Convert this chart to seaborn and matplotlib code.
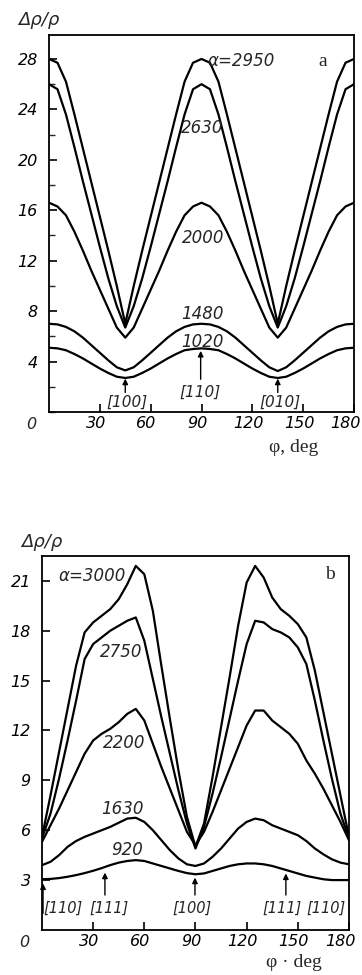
import matplotlib
matplotlib.use("Agg")
import matplotlib.pyplot as plt
from matplotlib.ticker import MultipleLocator
from matplotlib.transforms import ScaledTranslation
import pandas as pd
import seaborn as sns

# angle grid, deg
phi = list(range(0, 185, 5))

# panel a: delta rho / rho along the angle, one list per alpha
a_2950 = [28.0, 27.7, 26.2, 23.6, 20.9, 18.2, 15.5, 12.8, 10.0, 7.0, 10.0, 12.8, 15.5, 18.2, 20.9, 23.6, 26.2, 27.7, 28.0,
          27.7, 26.2, 23.6, 20.9, 18.2, 15.5, 12.8, 10.0, 7.0, 10.0, 12.8, 15.5, 18.2, 20.9, 23.6, 26.2, 27.7, 28.0]
a_2630 = [26.0, 25.6, 23.6, 21.0, 18.3, 15.7, 13.1, 10.6, 8.4, 6.7, 8.4, 10.6, 13.1, 15.7, 18.3, 21.0, 23.6, 25.6, 26.0,
          25.6, 23.6, 21.0, 18.3, 15.7, 13.1, 10.6, 8.4, 6.7, 8.4, 10.6, 13.1, 15.7, 18.3, 21.0, 23.6, 25.6, 26.0]
a_2000 = [16.6, 16.3, 15.6, 14.3, 12.8, 11.2, 9.7, 8.2, 6.7, 5.9, 6.7, 8.2, 9.7, 11.2, 12.8, 14.3, 15.6, 16.3, 16.6,
          16.3, 15.6, 14.3, 12.8, 11.2, 9.7, 8.2, 6.7, 5.9, 6.7, 8.2, 9.7, 11.2, 12.8, 14.3, 15.6, 16.3, 16.6]
a_1480 = [7.0, 6.95, 6.75, 6.4, 5.9, 5.3, 4.7, 4.1, 3.55, 3.3, 3.55, 4.1, 4.7, 5.3, 5.9, 6.4, 6.75, 6.95, 7.0,
          6.95, 6.75, 6.4, 5.9, 5.3, 4.7, 4.1, 3.55, 3.25, 3.55, 4.1, 4.7, 5.3, 5.9, 6.4, 6.75, 6.95, 7.0]
a_1020 = [5.1, 5.05, 4.9, 4.6, 4.25, 3.85, 3.45, 3.1, 2.8, 2.7, 2.8, 3.1, 3.45, 3.85, 4.25, 4.6, 4.9, 5.0, 5.05,
          5.0, 4.9, 4.6, 4.25, 3.85, 3.45, 3.1, 2.8, 2.7, 2.8, 3.1, 3.45, 3.85, 4.25, 4.6, 4.9, 5.05, 5.1]

# panel b
b_3000 = [5.6, 8.1, 10.7, 13.3, 15.9, 17.9, 18.5, 18.9, 19.3, 19.9, 20.8, 21.9, 21.4, 19.2, 15.9, 12.7, 9.6, 6.8, 5.0,
          6.4, 9.2, 12.2, 15.2, 18.3, 20.9, 21.9, 21.2, 20.0, 19.3, 18.9, 18.4, 17.6, 15.6, 13.1, 10.6, 8.1, 5.6]
b_2750 = [5.5, 7.0, 9.1, 11.4, 13.8, 16.3, 17.2, 17.6, 18.0, 18.3, 18.6, 18.8, 17.4, 15.1, 12.8, 10.6, 8.4, 6.4, 4.9,
          6.2, 8.2, 10.4, 12.7, 15.0, 17.2, 18.6, 18.5, 18.1, 17.9, 17.6, 17.0, 16.0, 13.8, 11.4, 9.1, 7.0, 5.5]
b_2200 = [5.3, 6.3, 7.3, 8.4, 9.5, 10.6, 11.4, 11.8, 12.1, 12.5, 13.0, 13.3, 12.6, 11.2, 9.8, 8.5, 7.2, 5.9, 5.1,
          5.9, 7.1, 8.4, 9.7, 11.0, 12.3, 13.2, 13.2, 12.6, 12.2, 11.8, 11.2, 10.2, 9.4, 8.5, 7.5, 6.5, 5.4]
b_1630 = [3.9, 4.1, 4.5, 5.0, 5.35, 5.6, 5.8, 6.0, 6.2, 6.45, 6.7, 6.75, 6.5, 6.0, 5.4, 4.8, 4.3, 3.95, 3.85,
          4.0, 4.4, 4.9, 5.5, 6.1, 6.5, 6.7, 6.6, 6.3, 6.1, 5.9, 5.7, 5.35, 4.9, 4.55, 4.25, 4.05, 3.95]
b_920 = [3.05, 3.07, 3.12, 3.2, 3.3, 3.42, 3.56, 3.72, 3.9, 4.05, 4.15, 4.2, 4.15, 4.0, 3.85, 3.7, 3.55, 3.42, 3.35,
         3.4, 3.55, 3.7, 3.85, 3.95, 4.0, 4.0, 3.95, 3.85, 3.7, 3.55, 3.4, 3.25, 3.15, 3.05, 3.0, 3.0, 3.0]

a_curves = {"2950": a_2950, "2630": a_2630, "2000": a_2000, "1480": a_1480, "1020": a_1020}
b_curves = {"3000": b_3000, "2750": b_2750, "2200": b_2200, "1630": b_1630, "920": b_920}

sns.set_style("ticks")
plt.rcParams["font.family"] = ["DejaVu Sans"]
plt.rcParams["font.style"] = "italic"
SERIF = ["Liberation Serif", "DejaVu Serif"]


def long_form(curves):
    rows = []
    for name, vals in curves.items():
        for p, v in zip(phi, vals):
            rows.append({"phi": p, "value": v, "alpha": name})
    return pd.DataFrame(rows)


def style_axis(ax, ymax, ystep, yminor):
    ax.set_xlim(0, 180)
    ax.set_ylim(0, ymax)
    ax.set_xlabel("")
    ax.set_ylabel("")
    for s in ax.spines.values():
        s.set_visible(True)
        s.set_linewidth(1.3)
        s.set_color("black")
    ax.yaxis.set_major_locator(MultipleLocator(ystep))
    if yminor:
        ax.yaxis.set_minor_locator(MultipleLocator(yminor))
    ax.tick_params(axis="both", which="major", direction="in", length=6, width=1.2,
                   labelsize=11.5, colors="black", top=False, right=False)
    ax.tick_params(axis="y", which="minor", direction="in", length=4, width=1.0, right=False)
    ax.tick_params(axis="x", pad=3)
    ax.tick_params(axis="y", pad=8)
    xt = [30, 60, 90, 120, 150, 180]
    ax.set_xticks(xt)
    ax.set_xticklabels([str(t) for t in xt])
    yt = [t for t in range(ystep, int(ymax) + 1, ystep)]
    ax.set_yticks(yt)
    ax.set_yticklabels([str(t) for t in yt])
    labels = ax.get_xticklabels()
    for i, lbl in enumerate(labels):
        dx = -6 if i == len(labels) - 1 else -3
        off = ScaledTranslation(dx / 72, 0, ax.figure.dpi_scale_trans)
        lbl.set_transform(lbl.get_transform() + off)
    # corner zero
    ax.text(-0.058, -0.034, "0", transform=ax.transAxes, ha="center", va="center", fontsize=11.5)


def arrow(ax, x, y0, y1):
    ax.annotate("", xy=(x, y1), xytext=(x, y0),
                arrowprops=dict(arrowstyle="-|>", color="black", lw=1.0, mutation_scale=8,
                                shrinkA=0, shrinkB=0))


fig = plt.figure(figsize=(3.62, 9.75), dpi=100)

# ---- panel a
ax1 = fig.add_axes([0.1354, 0.5774, 0.8425, 0.3867])
sns.lineplot(data=long_form(a_curves), x="phi", y="value", units="alpha", estimator=None,
             color="black", lw=1.6, ax=ax1)
style_axis(ax1, 29.9, 4, 2)
ax1.text(93.5, 27.8, "α=2950", fontsize=12, va="center", ha="left")
ax1.text(78, 22.5, "2630", fontsize=12, va="center", ha="left")
ax1.text(78.5, 13.8, "2000", fontsize=12, va="center", ha="left")
ax1.text(78, 7.8, "1480", fontsize=12, va="center", ha="left")
ax1.text(78, 5.55, "1020", fontsize=12, va="center", ha="left")
ax1.text(161.5, 27.8, "a", fontsize=14, va="center", ha="center", family=SERIF, style="normal")
ax1.text(45.8, 0.8, "[100]", fontsize=11, ha="center", va="center")
ax1.text(89.1, 1.55, "[110]", fontsize=11, ha="center", va="center")
ax1.text(136.3, 0.8, "[010]", fontsize=11, ha="center", va="center")
arrow(ax1, 45, 1.55, 2.65)
arrow(ax1, 89.5, 2.6, 4.85)
arrow(ax1, 135, 1.55, 2.65)
ax1.text(0.803, -0.095, "φ, deg", transform=ax1.transAxes, fontsize=14, ha="center", va="center",
         family=SERIF, style="normal")
ax1.text(-0.033, 1.04, "Δρ/ρ", transform=ax1.transAxes, fontsize=13, ha="center", va="center")

# ---- panel b
ax2 = fig.add_axes([0.116, 0.0462, 0.848, 0.3836])
sns.lineplot(data=long_form(b_curves), x="phi", y="value", units="alpha", estimator=None,
             color="black", lw=1.6, ax=ax2)
style_axis(ax2, 22.5, 3, None)
ax2.text(9.6, 21.3, "α=3000", fontsize=12, va="center", ha="left")
ax2.text(34, 16.7, "2750", fontsize=12, va="center", ha="left")
ax2.text(35.9, 11.25, "2200", fontsize=12, va="center", ha="left")
ax2.text(35, 7.3, "1630", fontsize=12, va="center", ha="left")
ax2.text(40.9, 4.8, "920", fontsize=12, va="center", ha="left")
ax2.text(168.9, 21.4, "b", fontsize=14, va="center", ha="center", family=SERIF, style="normal")
ax2.text(1.0, 1.28, "[110]", fontsize=10.5, ha="left", va="center")
ax2.text(39.5, 1.28, "[111]", fontsize=10.5, ha="center", va="center")
ax2.text(88.1, 1.28, "[100]", fontsize=10.5, ha="center", va="center")
ax2.text(140.5, 1.28, "[111]", fontsize=10.5, ha="center", va="center")
ax2.text(166.5, 1.28, "[110]", fontsize=10.5, ha="center", va="center")
arrow(ax2, 0.6, 1.0, 2.8)
arrow(ax2, 36.9, 2.1, 3.45)
arrow(ax2, 89.7, 2.1, 3.15)
arrow(ax2, 143.0, 2.1, 3.4)
ax2.text(0.82, -0.088, "φ · deg", transform=ax2.transAxes, fontsize=14, ha="center", va="center",
         family=SERIF, style="normal")
ax2.text(0.0, 1.037, "Δρ/ρ", transform=ax2.transAxes, fontsize=13, ha="center", va="center")

fig.savefig("out.png", dpi=100)
